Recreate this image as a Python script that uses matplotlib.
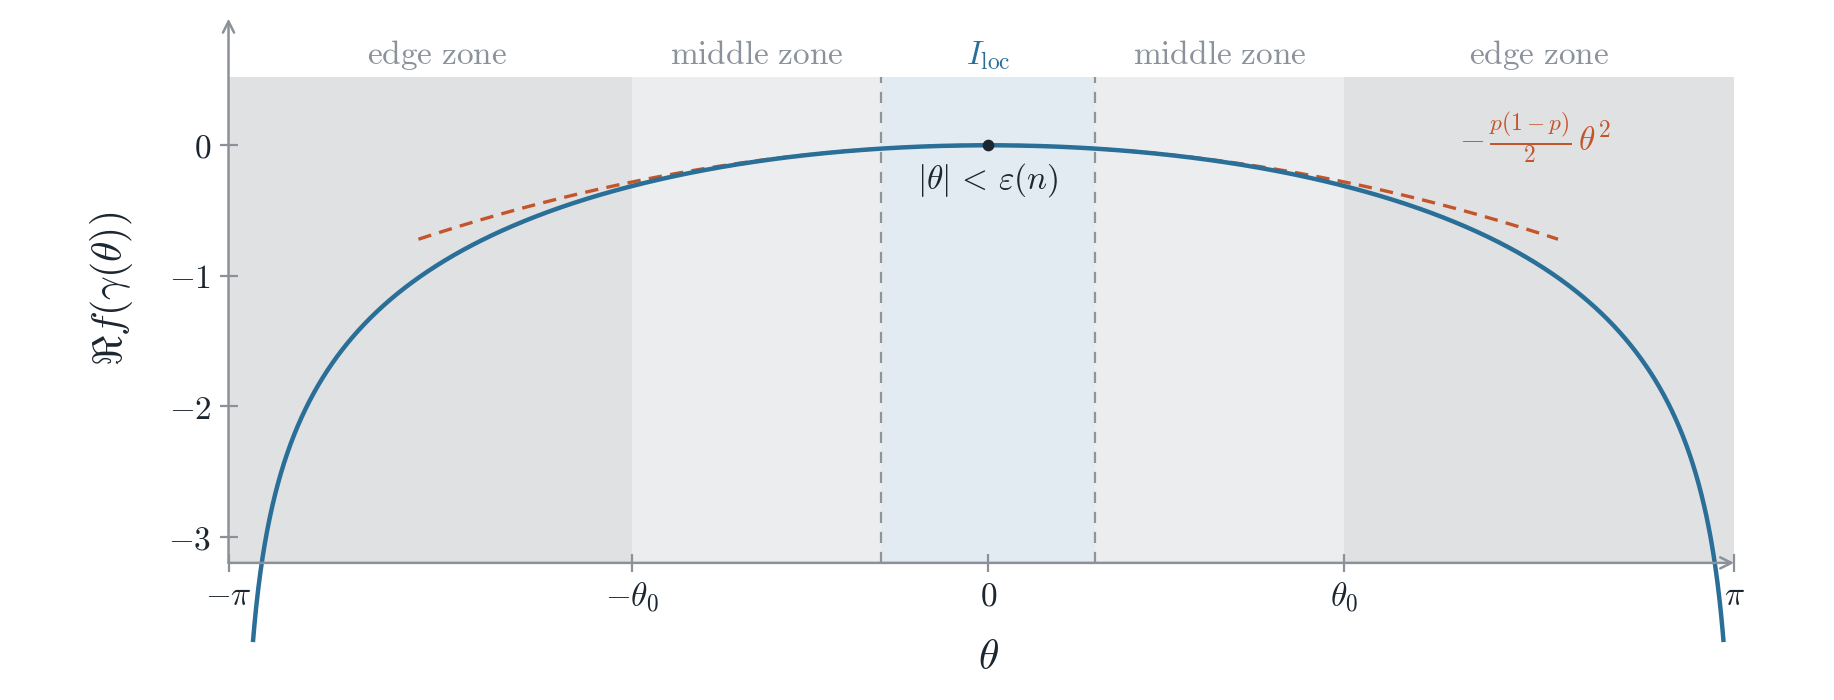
import numpy as np
import matplotlib
matplotlib.use("Agg")
import matplotlib.pyplot as plt

plt.rcParams["mathtext.fontset"] = "cm"
plt.rcParams["font.family"] = ["DejaVu Serif"]

# zone layout along theta
theta_left = -3.2
theta0 = 1.5
eps = 0.45
shade_top = 0.52
y_bottom = -3.2
theta_max = 3.0964          # curve drawn until log cos(theta/2) ~ -3.79
quad_range = 2.4            # extent of the quadratic approximation
p = 0.5

zone_edges = [theta_left, -theta0, -eps, eps, theta0, np.pi]
zone_colors = ["#e0e1e3", "#ebedef", "#e2ebf1", "#ebedef", "#e0e1e3"]
zone_label_x = [-2.32, -0.975, 0, 0.975, 2.32]
zone_labels = [r"$\mathrm{edge\ zone}$", r"$\mathrm{middle\ zone}$", r"$I_{\mathrm{loc}}$",
               r"$\mathrm{middle\ zone}$", r"$\mathrm{edge\ zone}$"]
zone_label_colors = ["#8b929b", "#8b929b", "#2a6f97", "#8b929b", "#8b929b"]

xtick_pos = [theta_left, -theta0, 0, theta0, np.pi]
xtick_labels = [r"$-\pi$", r"$-\theta_0$", r"$0$", r"$\theta_0$", r"$\pi$"]
ytick_pos = [0, -1, -2, -3]
ytick_labels = [r"$0$", r"$-1$", r"$-2$", r"$-3$"]

BLUE = "#2a6f97"
ORANGE = "#c4552b"
AXIS = "#8c9199"
DARK = "#1c2630"

fig = plt.figure(figsize=(9.17, 3.5), dpi=200)
ax = fig.add_axes([0.1246, 0.1959, 0.8285, 0.783])
ax.set_xlim(theta_left, 3.2)
ax.set_ylim(y_bottom, 1.0)
for s in ax.spines.values():
    s.set_visible(False)

# shaded zones
for i in range(len(zone_colors)):
    a, b = zone_edges[i], zone_edges[i + 1]
    ax.fill_between([a, b], y_bottom, shade_top, color=zone_colors[i], lw=0, zorder=0)
    ax.text(zone_label_x[i], 0.69, zone_labels[i], color=zone_label_colors[i],
            fontsize=12, ha="center", va="center")

for xv in (-eps, eps):
    ax.plot([xv, xv], [y_bottom, shade_top], color="#8f9496", lw=0.8,
            ls=(0, (5, 4)), zorder=1)

# curve and quadratic approximation
th = np.linspace(-theta_max, theta_max, 2000)
re_f = np.log(np.abs(1 - p + p * np.exp(1j * th)))
ax.plot(th, re_f, color=BLUE, lw=1.6, zorder=4, clip_on=False)

tq = np.linspace(-quad_range, quad_range, 400)
ax.plot(tq, -p * (1 - p) / 2 * tq ** 2, color=ORANGE, lw=1.2,
        ls=(0, (4, 2.5)), zorder=3)

ax.plot([0], [0], "o", color=DARK, ms=3.2, zorder=5)
ax.text(0, -0.27, r"$|\theta|\,<\,\varepsilon(n)$", fontsize=12, color=DARK,
        ha="center", va="center")
ax.text(2.3, 0.05, r"$-\,\frac{p(1-p)}{2}\,\theta^2$", fontsize=12, color=ORANGE,
        ha="center", va="center")

# axes with arrows
ax.annotate("", xy=(np.pi, y_bottom), xytext=(theta_left, y_bottom),
            arrowprops=dict(arrowstyle="->", color=AXIS, lw=0.9, shrinkA=0, shrinkB=0),
            zorder=6)
ax.annotate("", xy=(theta_left, 0.97), xytext=(theta_left, y_bottom),
            arrowprops=dict(arrowstyle="->", color=AXIS, lw=0.9, shrinkA=0, shrinkB=0),
            zorder=6)

ax.set_xticks(xtick_pos)
ax.set_xticklabels(xtick_labels)
ax.set_yticks(ytick_pos)
ax.set_yticklabels(ytick_labels)
ax.tick_params(direction="inout", length=6.4, width=0.8, color=AXIS,
               labelcolor=DARK, labelsize=12, pad=3)

ax.set_xlabel(r"$\theta$", fontsize=15, color=DARK, labelpad=8)
ax.set_ylabel(r"$\Re f(\gamma(\theta))$", fontsize=15, color=DARK, labelpad=12)

fig.savefig("out.png", dpi=200)
